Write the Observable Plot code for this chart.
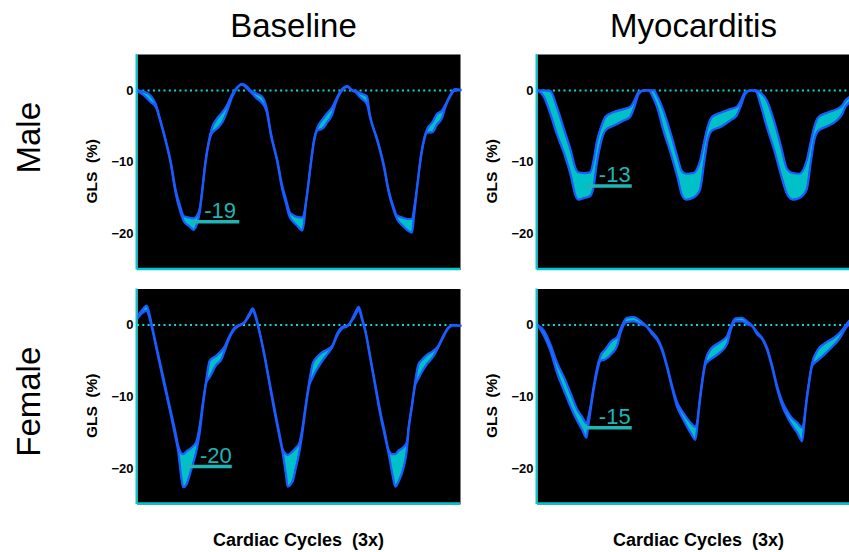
<!DOCTYPE html>
<html><head><meta charset="utf-8">
<script src="https://cdn.jsdelivr.net/npm/d3@7"></script>
<script src="https://cdn.jsdelivr.net/npm/@observablehq/plot@0.6"></script>
<style>
html,body{margin:0;padding:0;background:#fff;overflow:hidden;}
</style></head><body><div id="chart"></div>
<script>
const conditions = ["Baseline", "Myocarditis"];
const sexes = ["Male", "Female"];
const xLabel = "Cardiac Cycles\u00a0\u00a0(3x)";
const yLabel = "GLS\u00a0\u00a0(%)";
const yTicks = [0, -10, -20];

// [cycle position, upper GLS, lower GLS]
const maleBaseline = [
[0.00,0.0,-0.1],[0.06,-0.2,-0.7],[0.12,-0.7,-1.6],[0.17,-1.9,-2.3],[0.21,-4.0,-4.2],[0.26,-6.8,-7.0],
[0.31,-10.0,-10.3],[0.35,-13.5,-14.0],[0.40,-16.3,-17.0],[0.43,-17.5,-18.2],[0.48,-17.7,-18.9],[0.52,-17.8,-19.4],
[0.55,-17.5,-18.7],[0.58,-16.3,-16.8],[0.60,-14.0,-14.2],[0.63,-10.0,-10.3],[0.66,-7.2,-7.5],[0.69,-5.3,-6.0],
[0.74,-3.9,-5.3],[0.79,-3.0,-4.4],[0.83,-2.1,-3.0],[0.88,-0.5,-0.9],[0.93,0.5,0.4],[0.97,0.9,0.8],[1.02,0.5,0.2],
[1.05,0.0,-0.2],[1.10,-0.4,-1.0],[1.16,-0.9,-1.8],[1.20,-2.5,-3.0],[1.24,-6.0,-6.3],[1.30,-9.8,-10.1],
[1.34,-13.0,-13.5],[1.38,-15.2,-15.8],[1.41,-16.8,-17.5],[1.44,-17.3,-18.2],[1.48,-17.6,-18.8],[1.53,-17.7,-19.5],
[1.55,-17.0,-18.0],[1.56,-16.0,-16.3],[1.58,-13.8,-14.0],[1.61,-10.0,-10.3],[1.64,-6.8,-7.1],[1.67,-5.2,-5.6],
[1.72,-4.0,-5.3],[1.76,-3.2,-4.5],[1.81,-2.3,-3.3],[1.84,-1.4,-1.8],[1.89,0.0,-0.2],[1.95,0.6,0.5],[1.99,0.1,0.0],
[2.03,-0.1,-0.3],[2.07,-0.4,-1.0],[2.13,-0.8,-1.9],[2.16,-3.5,-3.8],[2.23,-6.9,-7.2],[2.29,-10.5,-10.8],
[2.33,-13.7,-14.0],[2.38,-16.3,-16.7],[2.41,-17.4,-17.9],[2.46,-17.7,-18.8],[2.51,-17.9,-19.5],[2.55,-17.9,-19.8],
[2.57,-16.3,-17.3],[2.60,-13.0,-13.2],[2.63,-9.3,-9.6],[2.66,-6.8,-7.1],[2.69,-5.4,-5.9],[2.74,-4.4,-5.8],
[2.78,-3.3,-4.8],[2.83,-2.8,-3.8],[2.86,-2.0,-2.3],[2.91,-0.5,-0.7],[2.95,0.2,0.0],[3.00,0.1,0.0]
];
const maleMyocarditis = [
[0.00,0.0,0.0],[0.06,0.0,-0.9],[0.12,-0.1,-3.3],[0.18,-2.3,-6.1],[0.25,-5.6,-8.9],[0.31,-8.4,-11.9],
[0.35,-10.7,-14.5],[0.38,-11.4,-15.2],[0.43,-11.5,-15.0],[0.49,-11.4,-14.7],[0.52,-9.8,-13.5],[0.55,-7.2,-10.3],
[0.59,-5.1,-7.2],[0.63,-3.7,-5.6],[0.71,-3.0,-4.9],[0.80,-2.6,-4.2],[0.86,-2.3,-3.7],[0.90,-1.4,-2.3],
[0.94,-0.2,-0.5],[0.99,0.0,0.0],[1.03,0.0,0.0],
[1.08,0.0,-1.2],[1.11,-0.7,-2.3],[1.17,-2.8,-5.6],[1.24,-6.1,-8.9],[1.30,-9.3,-12.1],[1.34,-11.2,-14.5],
[1.38,-11.6,-15.2],[1.45,-11.5,-14.9],[1.51,-9.8,-13.8],[1.55,-7.0,-9.8],[1.58,-5.1,-7.0],[1.62,-3.7,-5.6],
[1.70,-3.1,-5.1],[1.79,-2.6,-4.2],[1.85,-2.3,-3.5],[1.89,-1.4,-2.1],[1.93,-0.2,-0.5],[1.98,0.0,0.0],[2.03,0.0,-0.2],
[2.07,-0.3,-1.9],[2.13,-1.4,-5.1],[2.20,-4.4,-8.4],[2.26,-7.7,-11.7],[2.32,-11.0,-14.5],[2.37,-11.5,-15.2],
[2.43,-11.6,-15.0],[2.50,-9.8,-13.8],[2.54,-7.0,-9.8],[2.57,-5.1,-7.0],[2.61,-3.7,-5.6],[2.69,-3.1,-5.0],
[2.78,-2.6,-4.2],[2.83,-2.1,-3.3],[2.86,-1.4,-2.3],[2.90,-0.9,-1.6],[2.95,-0.2,-0.4],[3.00,0.0,0.0]
];
const femaleBaseline = [
[0.00,1.2,0.9],[0.04,2.0,1.6],[0.086,2.7,2.0],[0.11,1.6,1.0],[0.132,0.1,-0.3],[0.178,-3.1,-3.5],
[0.24,-7.3,-7.8],[0.302,-11.5,-12.0],[0.348,-14.6,-15.3],[0.378,-16.8,-17.6],[0.409,-17.9,-21.5],[0.425,-18.0,-22.6],
[0.455,-17.6,-22.2],[0.502,-17.1,-20.0],[0.548,-16.2,-17.5],[0.578,-14.0,-15.0],[0.61,-10.5,-11.0],[0.64,-7.5,-8.0],
[0.67,-5.0,-7.3],[0.73,-4.3,-5.6],[0.78,-3.6,-4.8],[0.81,-3.0,-3.6],[0.855,-1.5,-1.8],[0.902,-0.4,-0.6],
[0.948,0.0,-0.1],[0.994,0.4,0.3],[1.04,1.6,1.3],[1.071,2.3,2.0],[1.10,1.2,0.9],
[1.132,-0.8,-1.0],[1.178,-4.0,-4.3],[1.225,-7.8,-8.2],[1.271,-11.5,-12.0],[1.317,-15.0,-15.5],[1.348,-17.3,-17.8],
[1.38,-18.0,-21.0],[1.394,-18.1,-22.5],[1.44,-17.6,-21.8],[1.471,-17.1,-19.9],[1.502,-16.5,-17.8],[1.532,-14.3,-15.0],
[1.563,-11.0,-11.5],[1.594,-8.0,-8.5],[1.625,-5.5,-7.4],[1.655,-4.7,-6.5],[1.717,-3.8,-5.0],[1.778,-3.3,-3.8],
[1.809,-2.9,-3.1],[1.855,-1.2,-1.5],[1.902,-0.3,-0.5],[1.948,-0.1,-0.2],[1.978,0.4,0.3],[2.018,1.6,1.2],
[2.055,2.5,2.1],[2.086,1.0,0.7],
[2.117,-0.8,-1.0],[2.163,-4.5,-4.8],[2.209,-8.3,-8.7],[2.255,-12.0,-12.5],[2.302,-15.3,-15.8],[2.332,-17.4,-17.9],
[2.37,-18.0,-21.0],[2.394,-18.0,-22.5],[2.425,-17.5,-21.8],[2.471,-17.0,-19.9],[2.502,-16.3,-17.4],[2.517,-14.3,-14.8],
[2.548,-11.2,-11.5],[2.578,-8.0,-8.5],[2.609,-5.5,-7.5],[2.64,-4.9,-6.6],[2.686,-4.2,-5.5],[2.748,-3.6,-4.4],
[2.794,-2.9,-3.1],[2.84,-1.5,-1.7],[2.886,-0.4,-0.5],[2.932,0.0,-0.1],[2.978,-0.1,-0.1],[3.00,-0.1,-0.1]
];
const femaleMyocarditis = [
[0.00,0.0,0.0],[0.06,-0.8,-1.5],[0.12,-2.7,-3.6],[0.18,-5.2,-6.6],[0.25,-7.4,-9.3],[0.31,-9.6,-11.5],
[0.37,-11.8,-13.4],[0.415,-12.8,-14.6],[0.455,-13.7,-15.7],[0.47,-13.0,-14.2],[0.49,-11.5,-12.2],[0.52,-8.7,-9.2],
[0.55,-6.2,-6.8],[0.585,-4.3,-5.0],[0.63,-3.4,-4.8],[0.69,-2.2,-4.0],[0.74,-1.7,-2.9],[0.77,-0.6,-1.2],
[0.83,1.0,0.4],[0.895,1.1,0.5],[0.955,0.6,0.1],[1.00,0.0,-0.1],
[1.065,-1.0,-1.3],[1.111,-1.8,-2.1],[1.158,-3.3,-3.6],[1.204,-5.7,-6.0],[1.251,-8.5,-8.9],[1.297,-10.8,-11.4],
[1.344,-12.0,-12.9],[1.39,-13.0,-14.2],[1.421,-13.6,-15.0],[1.467,-14.2,-16.0],[1.485,-13.3,-14.0],[1.498,-11.5,-12.0],
[1.529,-7.8,-8.2],[1.56,-5.0,-5.5],[1.607,-3.4,-4.8],[1.684,-2.5,-4.0],[1.762,-1.5,-2.6],[1.793,-0.3,-0.8],
[1.839,0.9,0.5],[1.901,1.0,0.5],[1.947,0.5,0.1],[1.994,-0.1,-0.2],
[2.04,-1.0,-1.3],[2.087,-1.8,-2.0],[2.133,-3.2,-3.5],[2.18,-5.7,-6.0],[2.226,-8.5,-8.9],[2.272,-10.6,-11.2],
[2.319,-12.0,-12.8],[2.365,-13.0,-14.0],[2.412,-13.6,-15.0],[2.458,-14.3,-16.2],[2.475,-13.4,-14.2],[2.489,-11.5,-12.0],
[2.52,-8.0,-8.4],[2.551,-5.3,-5.7],[2.598,-3.6,-5.0],[2.675,-2.5,-4.0],[2.752,-1.8,-2.8],[2.80,-1.2,-2.0],
[2.83,-0.7,-1.3],[2.876,0.2,-0.2],[2.898,0.6,0.1],[3.00,0.8,0.3]
];

const peakLabels = ["-19", "-13", "-20", "-15"];
const peakLineY = [-18.3, -13.3, -19.7, -14.3];
const peakLineX1 = [0.51, 0.45, 0.45, 0.45];
const peakLineX2 = [0.95, 0.88, 0.88, 0.88];
const peakTextX = [0.62, 0.57, 0.58, 0.57];

const panels = [
  {condition: "Baseline", sex: "Male", points: maleBaseline},
  {condition: "Myocarditis", sex: "Male", points: maleMyocarditis},
  {condition: "Baseline", sex: "Female", points: femaleBaseline},
  {condition: "Myocarditis", sex: "Female", points: femaleMyocarditis}
];
const rows = panels.flatMap(p => p.points.map(([x, u, l]) => ({condition: p.condition, sex: p.sex, x, upper: u, lower: l})));
const ann = panels.map((p, i) => ({condition: p.condition, sex: p.sex, label: peakLabels[i], y: peakLineY[i], x1: peakLineX1[i], x2: peakLineX2[i], tx: peakTextX[i]}));
const cells = panels.map(p => ({condition: p.condition, sex: p.sex}));
const titles = conditions.map(c => ({condition: c, sex: "Male"}));
const bottoms = conditions.map(c => ({condition: c, sex: "Female"}));

const F = {fx: "condition", fy: "sex"};
const cyan = "#00c8d0";
const blue = "#1a5cff";
const band = "#00c0c8";
const teal = "#1fb5b5";

const chart = Plot.plot({
  width: 849, height: 552,
  marginLeft: 137, marginRight: -11, marginTop: 54, marginBottom: 48,
  style: {fontFamily: "'Liberation Sans', Arial, Helvetica, sans-serif", background: "#fff", color: "#000"},
  fx: {domain: conditions, paddingInner: 0.1925, paddingOuter: 0, round: false, axis: null},
  fy: {domain: sexes, paddingInner: 0.081, paddingOuter: 0, round: false, axis: null},
  x: {domain: [0, 3], axis: null},
  y: {domain: [-25, 5], axis: null},
  marks: [
    Plot.frame({fill: "black"}),
    Plot.ruleY([0], {stroke: "#00dce0", strokeWidth: 2, strokeDasharray: "2,3.3"}),
    Plot.areaY(rows, {...F, x: "x", y1: "lower", y2: "upper", fill: band, curve: "monotone-x"}),
    Plot.lineY(rows, {...F, x: "x", y: "upper", stroke: blue, strokeWidth: 2.2, curve: "monotone-x"}),
    Plot.lineY(rows, {...F, x: "x", y: "lower", stroke: blue, strokeWidth: 2.2, curve: "monotone-x"}),
    Plot.ruleY(ann, {...F, y: "y", x1: "x1", x2: "x2", stroke: teal, strokeWidth: 3.5}),
    Plot.text(ann, {...F, x: "tx", y: "y", text: "label", textAnchor: "start", lineAnchor: "bottom", dy: -3.5, fontSize: 22, fill: teal}),
    Plot.ruleX([0], {stroke: cyan, strokeWidth: 2, dx: -1}),
    Plot.ruleY([-25], {stroke: cyan, strokeWidth: 2.5, dy: -1}),
    Plot.axisY({ticks: yTicks, tickSize: 0, tickPadding: 4, fontSize: 13, fontWeight: "bold", label: null, facetAnchor: null}),
    Plot.text(cells, {...F, frameAnchor: "left", textAnchor: "middle", lineAnchor: "middle", text: () => yLabel, rotate: -90, dx: -45, dy: 9, fontSize: 15.5, fontWeight: "bold"}),
    Plot.text(titles, {...F, frameAnchor: "top", textAnchor: "middle", lineAnchor: "middle", text: "condition", dy: -28, dx: -5.5, fontSize: 33}),
    Plot.text(bottoms, {...F, frameAnchor: "bottom", textAnchor: "middle", lineAnchor: "middle", text: () => xLabel, dy: 36, dx: -0.5, fontSize: 18, fontWeight: "bold"}),
    Plot.text([{condition: "Baseline", sex: "Male"}], {...F, frameAnchor: "left", textAnchor: "middle", lineAnchor: "middle", text: "sex", rotate: -90, dx: -108.5, dy: -24.5, fontSize: 33}),
    Plot.text([{condition: "Baseline", sex: "Female"}], {...F, frameAnchor: "left", textAnchor: "middle", lineAnchor: "middle", text: "sex", rotate: -90, dx: -108.5, dy: 5, fontSize: 33})
  ]
});
document.getElementById("chart").append(chart);
</script></body></html>
